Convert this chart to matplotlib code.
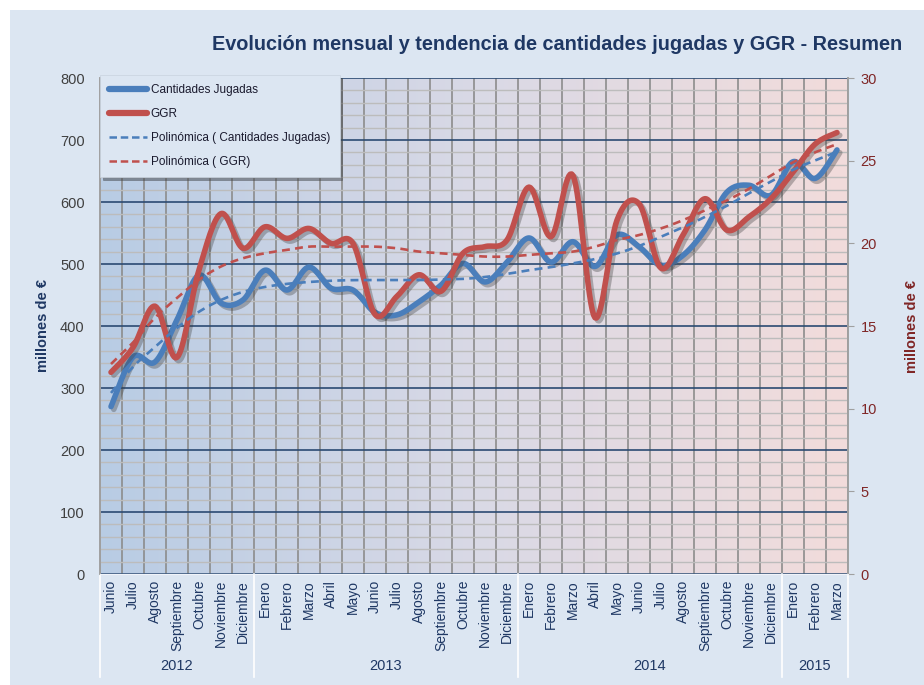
import numpy as np
import matplotlib
matplotlib.use("Agg")
import matplotlib.pyplot as plt
import matplotlib.patheffects as pe
from matplotlib.lines import Line2D
from matplotlib.patches import Rectangle
from matplotlib.colors import LinearSegmentedColormap

plt.rcParams['font.family'] = ['Liberation Sans', 'DejaVu Sans']

# data
meses = ["Junio", "Julio", "Agosto", "Septiembre", "Octubre", "Noviembre", "Diciembre",
         "Enero", "Febrero", "Marzo", "Abril", "Mayo", "Junio", "Julio", "Agosto",
         "Septiembre", "Octubre", "Noviembre", "Diciembre",
         "Enero", "Febrero", "Marzo", "Abril", "Mayo", "Junio", "Julio", "Agosto",
         "Septiembre", "Octubre", "Noviembre", "Diciembre",
         "Enero", "Febrero", "Marzo"]
anios = ["2012", "2013", "2014", "2015"]
meses_por_anio = [7, 12, 12, 3]

cantidades = [270, 350, 342, 410, 482, 437, 442,
              490, 458, 495, 461, 458, 422, 418, 439, 466, 501, 471, 503,
              542, 503, 536, 496, 547, 528, 498, 514, 555, 616, 627, 611,
              665, 638, 684]
ggr = [12.2, 13.7, 16.2, 13.1, 18.4, 21.8, 19.7,
       21.0, 20.3, 20.9, 20.0, 20.0, 15.7, 16.8, 18.1, 17.1, 19.4, 19.8, 20.2,
       23.4, 20.4, 24.1, 15.5, 21.4, 22.4, 18.5, 20.5, 22.7, 20.8, 21.6, 22.7,
       24.3, 26.0, 26.7]

# polynomial trend lines as drawn in the reference
tend_cantidades = [292, 334, 366, 397, 423, 442, 455,
                   463, 468, 471, 473, 474, 474, 474, 474, 475, 476, 479, 484,
                   490, 495, 501, 508, 517, 529, 544, 559, 576, 594, 614, 633,
                   652, 667, 681]
tend_ggr = [12.7, 14.0, 15.5, 16.7, 17.8, 18.6, 19.1,
            19.4, 19.6, 19.8, 19.8, 19.8, 19.8, 19.7, 19.5, 19.4, 19.3, 19.2, 19.2,
            19.3, 19.4, 19.5, 19.8, 20.2, 20.5, 20.9, 21.4, 22.0, 22.6, 23.3, 24.1,
            24.9, 25.5, 26.0]

AZUL = "#4a7ebb"
ROJO = "#c0504d"
NAVY = "#1f3864"
FONDO = "#dce6f2"


def suavizar(x, y, n=16):
    # Excel-like smoothed line (Catmull-Rom through the points)
    p = np.column_stack([x, y]).astype(float)
    p = np.vstack([p[0], p, p[-1]])
    out = []
    t = np.linspace(0, 1, n, endpoint=False)[:, None]
    for i in range(1, len(p) - 2):
        p0, p1, p2, p3 = p[i - 1], p[i], p[i + 1], p[i + 2]
        seg = 0.5 * ((2 * p1) + (-p0 + p2) * t + (2 * p0 - 5 * p1 + 4 * p2 - p3) * t ** 2
                     + (-p0 + 3 * p1 - 3 * p2 + p3) * t ** 3)
        out.append(seg)
    out.append(p[-2][None, :])
    out = np.vstack(out)
    return out[:, 0], out[:, 1]


x = np.arange(len(meses))

fig = plt.figure(figsize=(9.24, 6.85), dpi=100)
fig.patches.append(Rectangle((10 / 924, 0), 1, 1 - 10 / 685, transform=fig.transFigure,
                             facecolor=FONDO, edgecolor="none", zorder=-10))

ax = fig.add_axes([100 / 924, 1 - 574 / 685, 748 / 924, 496 / 685])
ax2 = ax.twinx()

# gradient background blue -> pink
cmap = LinearSegmentedColormap.from_list("bg", ["#b8cce4", "#d9d9e6", "#f2dcdb"])
ax.imshow(np.linspace(0, 1, 256)[None, :], cmap=cmap, aspect="auto",
          extent=[-0.5, len(meses) - 0.5, 0, 800], zorder=-1)
ax.set_facecolor("none")

ax.set_xlim(-0.5, len(meses) - 0.5)
ax.set_ylim(0, 800)
ax2.set_ylim(0, 30)

ax.set_yticks(np.arange(0, 801, 100))
ax.set_yticks(np.arange(0, 801, 20), minor=True)
ax.set_xticks(np.arange(-0.5, len(meses), 1), minor=True)
ax.set_xticks([])
ax.grid(which="minor", axis="y", color="#bcbcbc", lw=1.0)
ax.grid(which="major", axis="y", color="#2b4a72", lw=1.2)
ax.grid(which="minor", axis="x", color="#8c8c8c", lw=1.2)
ax.tick_params(axis="y", which="both", length=0, pad=11, labelsize=10.5, labelcolor="#404040")
ax.tick_params(axis="x", which="both", length=0)
ax2.set_yticks(np.arange(0, 31, 5))
ax2.tick_params(axis="y", length=4, color="#a0a0a0", pad=5, labelsize=10.5, labelcolor="#7f2626")

for a in (ax, ax2):
    a.spines["top"].set_visible(False)
    a.spines["bottom"].set_color("#f0f4fa")
    a.spines["left"].set_color("#a0a0a0")
    a.spines["right"].set_color("#a0a0a0")
    a.spines["left"].set_linewidth(1.2)
    a.spines["right"].set_linewidth(1.2)

ax.set_ylabel("millones de €", fontsize=10.5, fontweight="bold", color=NAVY, labelpad=7)
ax2.set_ylabel("millones de €", fontsize=10.5, fontweight="bold", color="#7f2626", labelpad=20,
               rotation=90)

sombra = [pe.SimpleLineShadow(offset=(2, -2), alpha=0.35, shadow_color="#404040"), pe.Normal()]

bx, by = suavizar(x, cantidades)
ax.plot(bx, by, color=AZUL, lw=4.0, solid_capstyle="round", path_effects=sombra, zorder=3)
rx, ry = suavizar(x, ggr)
ax2.plot(rx, ry, color=ROJO, lw=4.0, solid_capstyle="round", path_effects=sombra, zorder=3)

tx, ty = suavizar(x, tend_cantidades)
ax2.plot(tx, ty, color=AZUL, lw=1.9, ls=(0, (3, 2)), transform=ax.transData, zorder=4)
tx, ty = suavizar(x, tend_ggr)
ax2.plot(tx, ty, color=ROJO, lw=1.9, ls=(0, (3, 2)), zorder=4)

# month labels
for i, m in enumerate(meses):
    ax.text(i, -0.012, m, transform=ax.get_xaxis_transform(), rotation=90,
            ha="center", va="top", fontsize=10, color=NAVY)

# year labels and separators
inicio = 0
for anio, n in zip(anios, meses_por_anio):
    ax.text(inicio + (n - 1) / 2, -0.185, anio, transform=ax.get_xaxis_transform(),
            ha="center", va="center", fontsize=10.5, color=NAVY)
    inicio += n
limites = np.concatenate([[0], np.cumsum(meses_por_anio)]) - 0.5
for b in limites:
    ax.plot([b, b], [0, -0.208], transform=ax.get_xaxis_transform(), color="white",
            lw=1.2, clip_on=False)

handles = [
    Line2D([], [], color=AZUL, lw=4.5, solid_capstyle="round"),
    Line2D([], [], color=ROJO, lw=4.5, solid_capstyle="round"),
    Line2D([], [], color=AZUL, lw=1.8, ls=(0, (3, 1.5))),
    Line2D([], [], color=ROJO, lw=1.8, ls=(0, (3, 1.5))),
]
labels = ["Cantidades Jugadas", "GGR", "Polinómica ( Cantidades Jugadas)", "Polinómica ( GGR)"]
leg = ax2.legend(handles, labels, loc="upper left", bbox_to_anchor=(0, 1.006),
                 borderaxespad=0, fontsize=8.5, handlelength=3.2, labelspacing=1.0,
                 handletextpad=0.3, borderpad=0.8, fancybox=False, shadow=True, framealpha=1)
leg.get_frame().set_facecolor(FONDO)
leg.get_frame().set_edgecolor("#c8d2de")
leg.get_frame().set_linewidth(0.5)
for t in leg.get_texts():
    t.set_color("#1a1a2e")
leg.set_zorder(10)

fig.text(557 / 924, 1 - 45 / 685, "Evolución mensual y tendencia de cantidades jugadas y GGR - Resumen",
         ha="center", va="center", fontsize=14.3, fontweight="bold", color=NAVY)

fig.savefig("out.png", dpi=100)
